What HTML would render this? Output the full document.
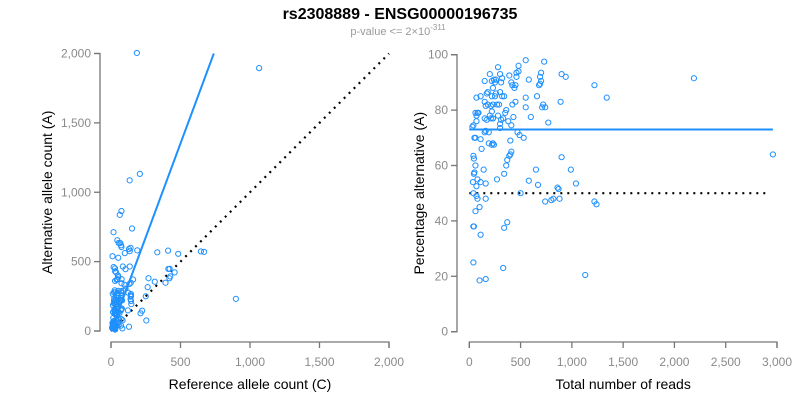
<!DOCTYPE html>
<html><head><meta charset="utf-8"><style>
body{margin:0;background:#fff}
svg{display:block;font-family:"Liberation Sans",sans-serif}
.tk{fill:#8a8a8a;font-size:12px}
.at{fill:#000;font-size:14px}
.ax{stroke:#777;stroke-width:1.3;fill:none}
</style></head><body>
<svg id="c" width="800" height="400" viewBox="0 0 800 400">
<text x="400" y="19" text-anchor="middle" font-weight="bold" font-size="16">rs2308889 - ENSG00000196735</text>
<text x="398" y="35" text-anchor="middle" font-size="11" fill="#999">p-value &lt;= 2×10<tspan dy="-5" font-size="8">-311</tspan></text>
<g id="left"></g>
<g id="right"></g>
</svg>
<script>
const totals=[30,40,50,60,70,60,80,90,70,110,70,40,45,60,45,50,35,80,70,110,40,70,80,100,60,40,45,110,40,100,160,160,160,140,120,110,150,160,150,170,200,210,230,220,180,160,150,150,170,180,200,220,240,250,260,280,300,310,320,230,260,300,250,320,220,230,270,290,210,230,280,310,300,330,350,360,190,190,220,230,240,270,380,410,420,450,430,390,410,420,440,450,460,460,480,480,470,490,530,400,410,400,390,370,360,340,370,340,330,500,550,580,550,550,600,660,680,690,700,700,690,720,710,740,730,770,580,650,670,740,800,820,860,870,880,890,900,940,900,990,1040,1130,1220,1220,1240,1340,2190,2960,340,300];
const pcts=[74,74.5,70,70,76,79,79,79,84.5,85,78,63.5,62.5,60,57,57.5,54,55,52.5,54,50,49,48,45,43.5,38,38,35,25,18.5,19,48,53.5,58.5,66,69.5,72,72.5,77,76.5,78,77,77,79.5,82,81.5,83,90.5,86,86.5,93,90.5,91,90,91,95.5,93,90,91.5,88,86,86.5,85,85,85,82,82,82,81.5,77,78,76.5,75,77,79,80,72,68,67.5,68,67.5,55,76,74.5,82,83,77.5,92.5,90,89,88,89,92,93.5,94,96,72,71,70,69,65,64,63.5,62,60,57,39.5,37.5,23,50,98,91,84.5,81,77.5,85,89,89.5,93.5,90.5,92,82,81,81,97.5,75.5,54.5,58.5,53,47,47.5,48,52,51.5,48,83,93,92,63,58.5,53.5,20.5,89,47,46,84.5,91.5,64,85,73.5];
const fitPct=73, nullPct=50;
const xTicksL=[0,500,1000,1500,2000], yTicksL=[0,500,1000,1500,2000];
const xTicksR=[0,500,1000,1500,2000,2500,3000], yTicksR=[0,20,40,60,80,100];
const NS="http://www.w3.org/2000/svg";
function mk(p,t,a){const e=document.createElementNS(NS,t);for(const k in a)e.setAttribute(k,a[k]);p.appendChild(e);return e;}
const fmt=v=>v.toLocaleString('en-US');
function axes(g,sx,sy,xt,yt,xl,yl,xa,ya,xmax,ymax,ylx){
  const ax=mk(g,'path',{class:'ax',d:`M${ya-6},${sy(ymax)}H${ya}V${sy(0)}H${ya-6}`});
  
  yt.forEach(v=>{const y=sy(v);mk(g,'line',{class:'ax',x1:ya-6,x2:ya,y1:y,y2:y});
    const t=mk(g,'text',{class:'tk',x:ya-9,y:y+4,'text-anchor':'end'});t.textContent=fmt(v);
    });
  const bx=mk(g,'path',{class:'ax',d:`M${sx(0)},${xa+6}V${xa}H${sx(xmax)}V${xa+6}`});
  
  xt.forEach(v=>{const x=sx(v);mk(g,'line',{class:'ax',x1:x,x2:x,y1:xa,y2:xa+6});
    const t=mk(g,'text',{class:'tk',x:x,y:xa+24,'text-anchor':'middle'});t.textContent=fmt(v);
    });
  const xt2=mk(g,'text',{class:'at',x:(sx(0)+sx(xmax))/2,y:389,'text-anchor':'middle'});xt2.textContent=xl;
  
  const cy=(sy(0)+sy(ymax))/2;
  const yt2=mk(g,'text',{class:'at',x:ylx,y:cy,'text-anchor':'middle',transform:`rotate(-90 ${ylx} ${cy})`});yt2.textContent=yl;
  
}
// left
const L=document.getElementById('left');
const lx=v=>111+v*(389-111)/2000, ly=v=>331-v*(331-53.5)/2000;
axes(L,lx,ly,xTicksL,yTicksL,'Reference allele count (C)','Alternative allele count (A)',342,100,2000,2000,52);
const ratio=fitPct/(100-fitPct), cEnd=2000/ratio;
const fl=mk(L,'line',{x1:lx(0),y1:ly(0),x2:lx(cEnd),y2:ly(2000),stroke:'#1E90FF','stroke-width':2});

const dl=mk(L,'line',{x1:lx(0),y1:ly(0),x2:lx(2000),y2:ly(2000),stroke:'#000','stroke-width':2.2,'stroke-dasharray':'2 5'});

totals.forEach((t,i)=>{const a=t*pcts[i]/100,c=t-a;
  const p=mk(L,'circle',{cx:lx(c),cy:ly(a),r:2.6,fill:'none',stroke:'#1E90FF','stroke-width':1});
  });
// right
const R=document.getElementById('right');
const rx=v=>469.3+v*(777-469.3)/3000, ry=v=>331.7-v*(331.7-54.7)/100;
axes(R,rx,ry,xTicksR,yTicksR,'Total number of reads','Percentage alternative (A)',342,457,3000,100,424);
const fr=mk(R,'line',{x1:rx(0),y1:ry(fitPct),x2:rx(2960),y2:ry(fitPct),stroke:'#1E90FF','stroke-width':2});

const dr=mk(R,'line',{x1:rx(0),y1:ry(nullPct),x2:rx(2900),y2:ry(nullPct),stroke:'#000','stroke-width':2.2,'stroke-dasharray':'2 5'});

totals.forEach((t,i)=>{
  const p=mk(R,'circle',{cx:rx(t),cy:ry(pcts[i]),r:2.6,fill:'none',stroke:'#1E90FF','stroke-width':1});
  });
</script>
</body></html>
